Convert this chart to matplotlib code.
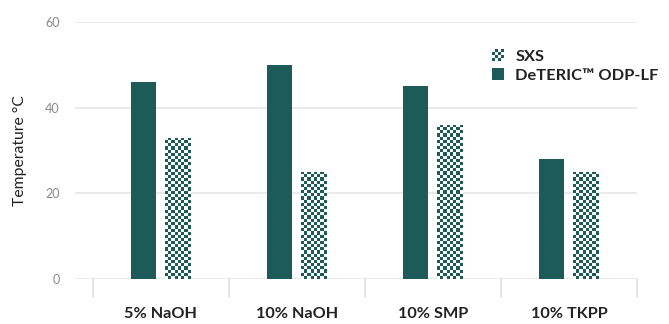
import numpy as np
import matplotlib
matplotlib.use("Agg")
import matplotlib.pyplot as plt
from matplotlib.patches import Rectangle
from matplotlib.legend_handler import HandlerBase

categories = ["5% NaOH", "10% NaOH", "10% SMP", "10% TKPP"]
deteric = [46, 50, 45, 28]
sxs = [33, 25, 36, 25]
yticks = [0, 20, 40, 60]

TEAL = "#1d5b58"
plt.rcParams['font.family'] = ['Lato', 'DejaVu Sans']

fig = plt.figure(figsize=(6.69, 3.24), dpi=100)
ax = fig.add_axes([75/669, 1-279/324, (637-75)/669, (279-22)/324])

x = np.arange(len(categories))
w = 0.184
off = 0.125
b1 = ax.bar(x - off, deteric, w, color=TEAL, zorder=3, label="DeTERIC\u2122 ODP-LF")
b2 = ax.bar(x + off, sxs, w, color="white", zorder=3, label="SXS")

# checker texture for SXS bars
cell_px = 3.125
px_per_unit_y = (279-22)/60
for p in b2:
    x0, wd, h = p.get_x(), p.get_width(), p.get_height()
    nx = 8
    ny = max(1, int(round(h*px_per_unit_y/cell_px)))
    img = (np.add.outer(np.arange(ny), np.arange(nx)) % 2).astype(float)
    im = ax.imshow(img, extent=(x0, x0+wd, 0, h), cmap=matplotlib.colors.ListedColormap(["white", TEAL]),
                   interpolation="nearest", aspect="auto", zorder=4, origin="lower")
    im.set_clip_path(p)

ax.set_xlim(-0.63, 3.5)
ax.set_ylim(0, 60)
ax.set_yticks(yticks)
ax.set_yticklabels([str(v) for v in yticks])
ax.tick_params(axis="y", length=0, pad=11, labelsize=9, labelcolor="#8a8a8a")
ax.grid(axis="y", color="#e8e8e8", linewidth=1.3, zorder=0)
ax.set_axisbelow(True)
for s in ax.spines.values():
    s.set_visible(False)

ax.set_xticks(np.arange(-0.5, 4, 1.0))
ax.set_xticklabels([])
ax.tick_params(axis="x", which="major", length=13, color="#e0e0e0", width=1.3)
ax.set_xticks(x, minor=True)
ax.set_xticklabels(categories, minor=True, fontweight="bold", fontsize=11.7, color="#222222")
ax.tick_params(axis="x", which="minor", length=0, pad=20)

ax.set_ylabel("Temperature \u00b0C", fontsize=11.3, color="#222222", labelpad=13)

class CheckerHandler(HandlerBase):
    def create_artists(self, legend, orig_handle, xdescent, ydescent, width, height, fontsize, trans):
        arts = []
        s = min(width, height)
        x0 = -xdescent + (width - s)/2
        y0 = -ydescent + (height - s)/2
        n = 4
        c = s/n
        arts.append(Rectangle((x0, y0), s, s, facecolor="white", edgecolor="none", transform=trans))
        for i in range(n):
            for j in range(n):
                if (i + j) % 2 == 0:
                    arts.append(Rectangle((x0+i*c, y0+j*c), c, c, facecolor=TEAL, edgecolor="none", transform=trans))
        return arts

class SquareHandler(HandlerBase):
    def create_artists(self, legend, orig_handle, xdescent, ydescent, width, height, fontsize, trans):
        s = min(width, height)
        x0 = -xdescent + (width - s)/2
        y0 = -ydescent + (height - s)/2
        return [Rectangle((x0, y0), s, s, facecolor=TEAL, edgecolor="none", transform=trans)]

leg = ax.legend([b2, b1], ["SXS", "DeTERIC\u2122 ODP-LF"],
                handler_map={b2: CheckerHandler(), b1: SquareHandler()},
                loc="upper left", bbox_to_anchor=(492/669, 1-49/324), bbox_transform=fig.transFigure,
                frameon=False, fontsize=11.8, handlelength=0.72, handleheight=0.72,
                handletextpad=0.7, labelspacing=0.3, borderpad=0, borderaxespad=0)
for t in leg.get_texts():
    t.set_fontweight("bold")
    t.set_color("#222222")

fig.savefig("out.png", dpi=100)
